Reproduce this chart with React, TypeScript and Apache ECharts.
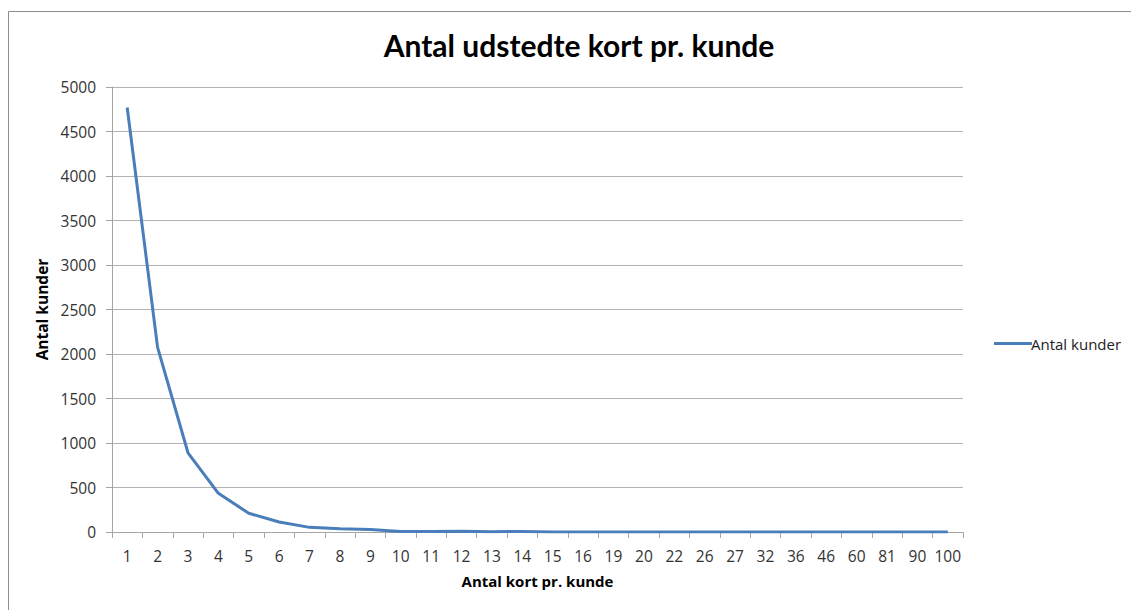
import React, { useEffect, useRef } from "react";
import * as echarts from "echarts";

const categories = [
  "1", "2", "3", "4", "5", "6", "7", "8", "9", "10", "11", "12", "13", "14",
  "15", "16", "19", "20", "22", "26", "27", "32", "36", "46", "60", "81", "90", "100",
];
const customers = [
  4770, 2075, 890, 435, 210, 112, 52, 37, 27, 5, 6, 9, 2, 7,
  1, 1, 1, 1, 1, 1, 1, 1, 1, 1, 1, 1, 1, 1,
];
const yTicks = [0, 500, 1000, 1500, 2000, 2500, 3000, 3500, 4000, 4500, 5000];

const titleText = "Antal udstedte kort pr. kunde";
const seriesName = "Antal kunder";
const xName = "Antal kort pr. kunde";
const yName = "Antal kunder";

const FONT = "'Open Sans', 'Noto Sans', sans-serif";

export default function App() {
  const ref = useRef<HTMLDivElement>(null);
  useEffect(() => {
    const chart = echarts.init(ref.current!, undefined, { renderer: "svg" });
    chart.setOption({
      animation: false,
      backgroundColor: "#ffffff",
      title: {
        text: titleText,
        left: 574,
        textAlign: "center",
        top: 25,
        textStyle: { fontFamily: "Lato, " + FONT, fontWeight: "bold", fontSize: 30, color: "#000" },
      },
      graphic: [
        {
          type: "rect",
          shape: { x: 8.5, y: 11.5, width: 1140, height: 620 },
          style: { fill: "none", stroke: "#8c8c8c", lineWidth: 1 },
          silent: true,
          z: -1,
        },
      ],
      legend: {
        data: [seriesName],
        left: 989,
        top: 331,
        icon: "rect",
        itemWidth: 38,
        itemHeight: 3,
        itemGap: 2,
        textStyle: { fontFamily: FONT, fontSize: 15, color: "#222", padding: [0, 0, 0, -6] },
      },
      grid: { left: 112, right: 168, top: 87, bottom: 78, containLabel: false },
      xAxis: {
        type: "category",
        data: categories,
        boundaryGap: true,
        name: xName,
        nameLocation: "middle",
        nameGap: 41,
        nameTextStyle: { fontFamily: FONT, fontWeight: "bold", fontSize: 15, color: "#000" },
        axisLine: { lineStyle: { color: "#a6a6a6", width: 1 } },
        axisTick: { show: true, length: 6, lineStyle: { color: "#a6a6a6" } },
        axisLabel: { interval: 0, margin: 16, fontFamily: FONT, fontSize: 15.5, color: "#333" },
      },
      yAxis: {
        type: "value",
        min: 0,
        max: 5000,
        interval: 500,
        name: yName,
        nameLocation: "middle",
        nameGap: 62,
        nameRotate: 90,
        nameTextStyle: { fontFamily: FONT, fontWeight: "bold", fontSize: 15.5, color: "#000" },
        axisLine: { show: true, lineStyle: { color: "#a6a6a6", width: 1 } },
        axisTick: { show: true, length: 6, lineStyle: { color: "#a6a6a6" } },
        axisLabel: {
          margin: 16,
          fontFamily: FONT,
          fontSize: 15.5,
          color: "#333",
          formatter: (v: number) => (yTicks.includes(v) ? String(v) : ""),
        },
        splitLine: { lineStyle: { color: "#b3b3b3", width: 1 } },
      },
      series: [
        {
          name: seriesName,
          type: "line",
          data: customers,
          symbol: "none",
          smooth: false,
          lineStyle: { color: "#4a7ebb", width: 3 },
          itemStyle: { color: "#4a7ebb" },
        },
      ],
    });
    return () => chart.dispose();
  }, []);
  return <div ref={ref} style={{ width: 1131, height: 610, position: "absolute", left: 0, top: 0 }} />;
}
